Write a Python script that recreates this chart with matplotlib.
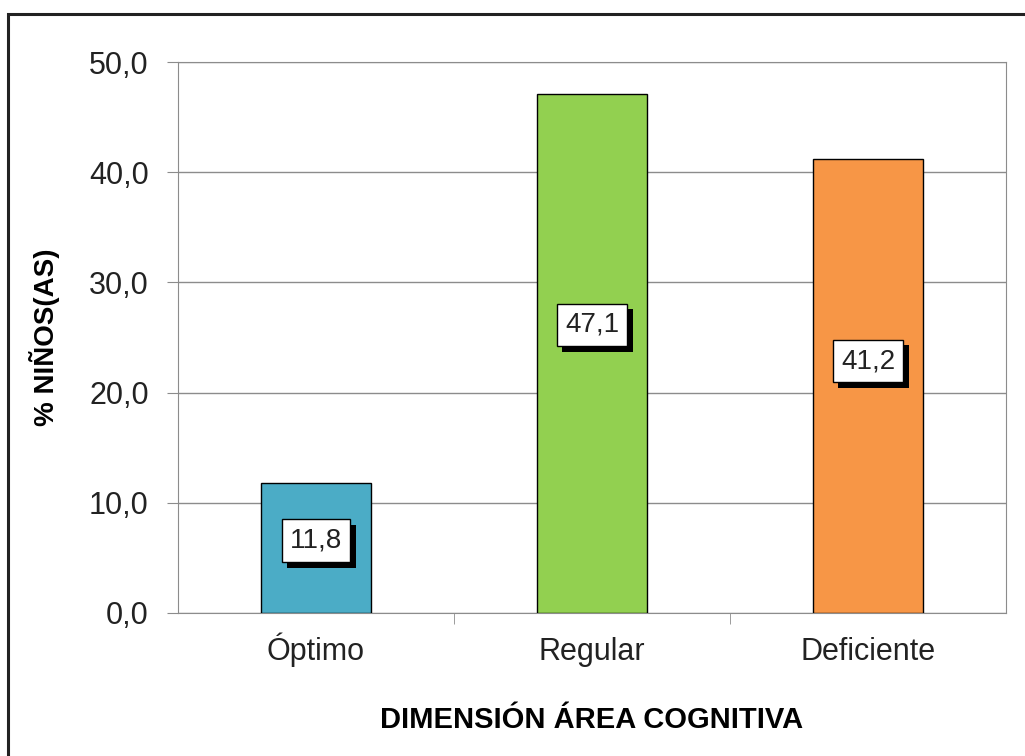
import matplotlib.pyplot as plt
import matplotlib.patheffects as pe
from matplotlib.patches import Rectangle

categories = ['Óptimo', 'Regular', 'Deficiente']
values = [11.8, 47.1, 41.2]
colors = ['#4BACC6', '#92D050', '#F79646']
yticks = [0, 10, 20, 30, 40, 50]

plt.rcParams['font.family'] = ['Liberation Sans', 'DejaVu Sans']

fig = plt.figure(figsize=(10.25, 7.56), dpi=100)
ax = fig.add_axes([178 / 1025, 1 - 613 / 756, (1006 - 178) / 1025, (613 - 62) / 756])

# outer chart frame
fig.patches.append(Rectangle((8 / 1025, -0.1), 1.2, (756 - 14) / 756 + 0.1,
                             transform=fig.transFigure, fill=False,
                             edgecolor='#222222', linewidth=2.2))

x = range(len(categories))
ax.bar(x, values, width=0.4, color=colors, edgecolor='black', linewidth=1, zorder=3)

ax.set_xlim(-0.5, 2.5)
ax.set_ylim(0, 50)
ax.set_yticks(yticks)
ax.set_yticklabels([f'{v:.1f}'.replace('.', ',') for v in yticks], fontsize=22, color='#222222')
ax.yaxis.grid(True, color='#8c8c8c', linewidth=1, zorder=0)

ax.set_xticks([0, 1, 2])
ax.set_xticklabels(categories, fontsize=22, color='#222222', va='baseline')
ax.tick_params(axis='x', length=0, pad=34)
ax.set_xticks([0.5, 1.5], minor=True)
ax.tick_params(axis='x', which='minor', length=8, color='#8c8c8c', direction='out')
ax.tick_params(axis='y', length=8, color='#8c8c8c', direction='out', pad=13)

for side in ['top', 'right', 'left', 'bottom']:
    ax.spines[side].set_color('#8c8c8c')

ax.set_ylabel('% NIÑOS(AS)', fontsize=20, fontweight='bold', va='center')
ax.yaxis.set_label_coords((45 - 178) / 828, 0.5)
ax.set_xlabel('DIMENSIÓN ÁREA COGNITIVA', fontsize=21, fontweight='bold', va='center')
ax.xaxis.set_label_coords(0.5, (613 - 720) / 551)

for i, v in enumerate(values):
    t = ax.text(i, v * 0.555, f'{v:.1f}'.replace('.', ','), ha='center', va='center',
                fontsize=20, zorder=5, color='#222222',
                bbox=dict(boxstyle='square,pad=0.3', facecolor='white',
                          edgecolor='black', linewidth=1))
    t.get_bbox_patch().set_path_effects([
        pe.SimplePatchShadow(offset=(4, -4), shadow_rgbFace='black', alpha=1),
        pe.Normal()])

fig.savefig('out.png', dpi=100)
